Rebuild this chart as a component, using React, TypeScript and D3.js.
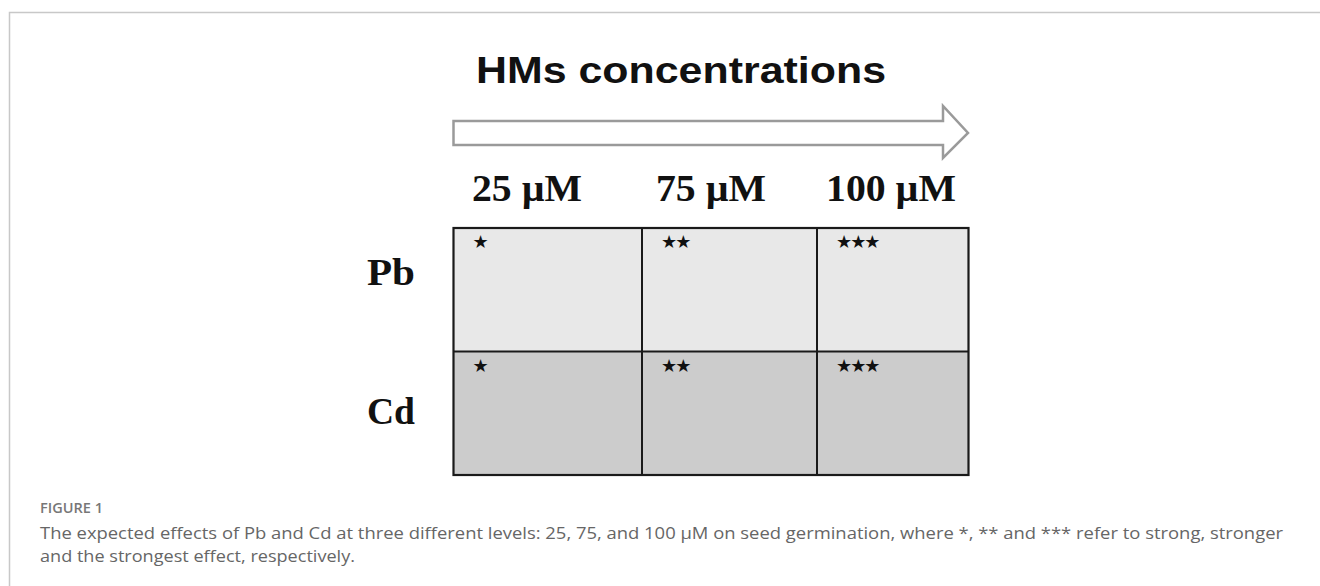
import * as d3 from 'd3';

const concentrations = ['25 µM', '75 µM', '100 µM'];
const metals = ['Pb', 'Cd'];
const effectStars = [1, 2, 3];
const title = 'HMs concentrations';
const figureLabel = 'FIGURE 1';
const captionLines = [
  'The expected effects of Pb and Cd at three different levels: 25, 75, and 100 µM on seed germination, where *, ** and *** refer to strong, stronger',
  'and the strongest effect, respectively.',
];

const W = 1320;
const H = 586;

const App = () => {
  // column edges are not evenly spaced in the figure
  const xEdge = d3.scaleLinear().domain([0, 1, 2, 3]).range([453.5, 642, 817, 968.5]);
  const xLabel = d3.scaleLinear().domain([0, 1, 2]).range([527, 711, 891]);
  const y = d3.scaleBand<string>().domain(metals).range([228, 475]);
  const yLabel = d3.scaleOrdinal<string, number>().domain(metals).range([285, 424]);
  const rowFill = d3.scaleOrdinal<string, string>().domain(metals).range(['#e8e8e8', '#cccccc']);

  const arrowTop = 121;
  const arrowBot = 145;
  const arrowMid = (arrowTop + arrowBot) / 2;
  const headX = 943;
  const arrowPath = d3.path();
  arrowPath.moveTo(xEdge(0), arrowTop);
  arrowPath.lineTo(headX, arrowTop);
  arrowPath.lineTo(headX, 106);
  arrowPath.lineTo(968, arrowMid);
  arrowPath.lineTo(headX, 158);
  arrowPath.lineTo(headX, arrowBot);
  arrowPath.lineTo(xEdge(0), arrowBot);
  arrowPath.closePath();

  const labelWidths = [110, 110, 130];
  const serif = 'Liberation Serif, Times New Roman, serif';

  return (
    <svg width={W} height={H} style={{ position: 'absolute', left: 0, top: 0 }}>
      <rect width={W} height={H} fill="#fff" />
      <path d={`M9.5,${H} V12.5 H${W}`} fill="none" stroke="#c8c8c8" strokeWidth={1.5} />

      <text
        x={476}
        y={83}
        fontFamily="Liberation Sans, Arial, sans-serif"
        fontWeight="bold"
        fontSize={37}
        textLength={410}
        lengthAdjust="spacingAndGlyphs"
        fill="#111"
      >
        {title}
      </text>

      <path d={arrowPath.toString()} fill="#fff" stroke="#9a9a9a" strokeWidth={2.5} strokeLinejoin="miter" />

      {concentrations.map((c, i) => (
        <text
          key={c}
          x={xLabel(i)}
          y={201}
          textAnchor="middle"
          fontFamily={serif}
          fontWeight="bold"
          fontSize={37}
          textLength={labelWidths[i]}
          lengthAdjust="spacingAndGlyphs"
          fill="#111"
        >
          {c}
        </text>
      ))}

      {metals.map(m => (
        <g key={m}>
          <rect
            x={xEdge(0)}
            y={y(m)}
            width={xEdge(3) - xEdge(0)}
            height={y.bandwidth()}
            fill={rowFill(m)}
          />
          <text
            x={415}
            y={yLabel(m)}
            textAnchor="end"
            fontFamily={serif}
            fontWeight="bold"
            fontSize={38}
            textLength={48}
            lengthAdjust="spacingAndGlyphs"
            fill="#111"
          >
            {m}
          </text>
          {effectStars.map((n, i) => (
            <text
              key={i}
              x={xEdge(i) + 19}
              y={(y(m) ?? 0) + 20}
              fontFamily="DejaVu Sans, sans-serif"
              fontSize={18}
              letterSpacing={-2}
              fill="#111"
            >
              {'★'.repeat(n)}
            </text>
          ))}
        </g>
      ))}

      {d3.range(1, 3).map(i => (
        <line key={i} x1={xEdge(i)} x2={xEdge(i)} y1={y.range()[0]} y2={y.range()[1]} stroke="#1a1a1a" strokeWidth={2} />
      ))}
      <line x1={xEdge(0)} x2={xEdge(3)} y1={y('Cd')} y2={y('Cd')} stroke="#1a1a1a" strokeWidth={2} />
      <rect
        x={xEdge(0)}
        y={y.range()[0]}
        width={xEdge(3) - xEdge(0)}
        height={y.range()[1] - y.range()[0]}
        fill="none"
        stroke="#1a1a1a"
        strokeWidth={2.2}
      />

      <text
        x={40}
        y={513}
        fontFamily="Open Sans, sans-serif"
        fontWeight={600}
        fontSize={13.5}
        textLength={63}
        lengthAdjust="spacingAndGlyphs"
        fill="#777"
      >
        {figureLabel}
      </text>
      {captionLines.map((line, i) => (
        <text
          key={i}
          x={40}
          y={539 + i * 23}
          fontFamily="Open Sans, sans-serif"
          fontSize={16}
          fill="#666"
          textLength={i === 0 ? 1243 : 315}
          lengthAdjust="spacingAndGlyphs"
        >
          {line}
        </text>
      ))}
    </svg>
  );
};

export default App;
